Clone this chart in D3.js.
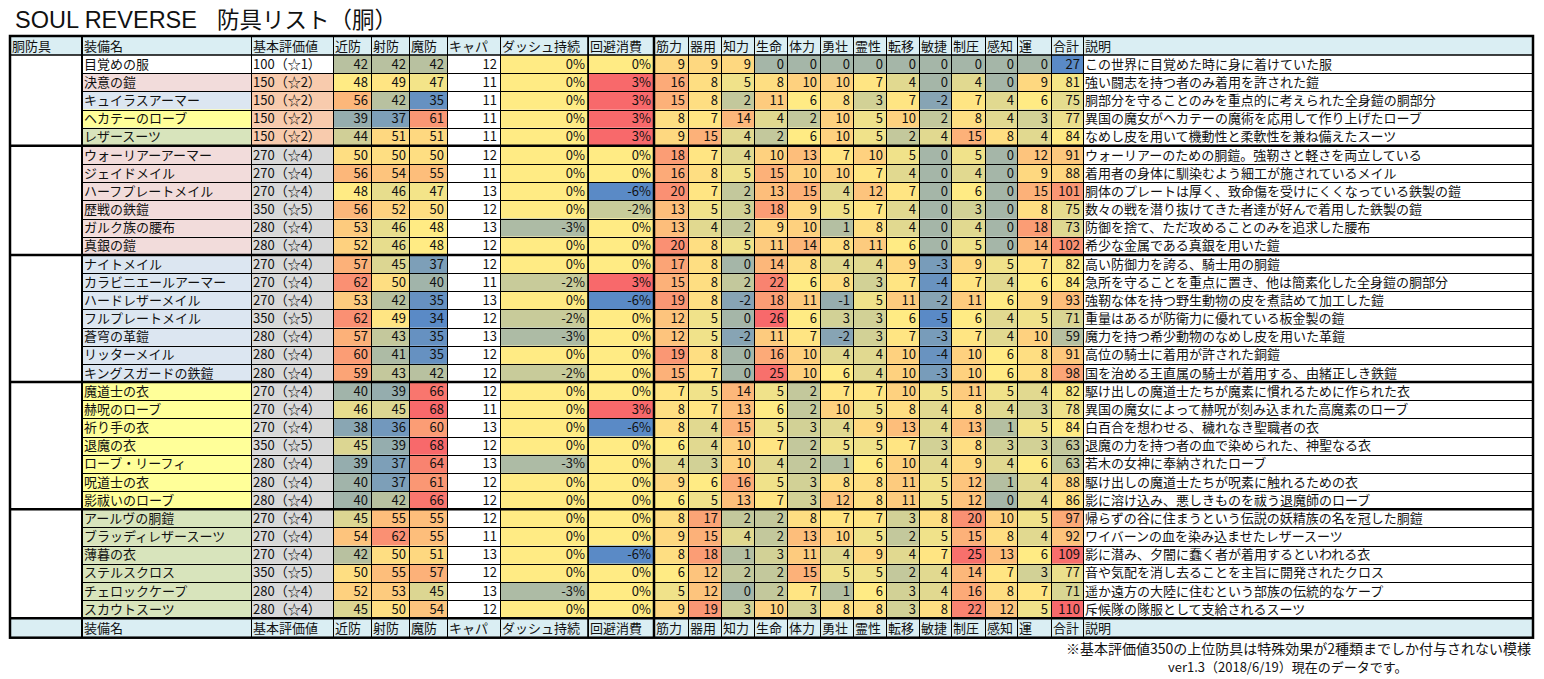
<!DOCTYPE html>
<html>
<head>
<meta charset="utf-8">
<script src="https://cdn.jsdelivr.net/npm/d3@7"></script>
<style>
  body { margin: 0; background: #fff; }
  svg text { font-family: "Noto Sans CJK JP", "Noto Sans", sans-serif; fill: #111; }
</style>
</head>
<body>
<svg id="chart" width="1544" height="679"></svg>
<script>
// ---- data ----
const headers = ["胴防具", "装備名", "基本評価値", "近防", "射防", "魔防", "キャパ", "ダッシュ持続", "回避消費",
  "筋力", "器用", "知力", "生命", "体力", "勇壮", "霊性", "転移", "敏捷", "制圧", "感知", "運", "合計", "説明"];

const names = ["目覚めの服", "決意の鎧", "キュイラスアーマー", "ヘカテーのローブ", "レザースーツ",
  "ウォーリアーアーマー", "ジェイドメイル", "ハーフプレートメイル", "歴戦の鉄鎧", "ガルク族の腰布", "真銀の鎧",
  "ナイトメイル", "カラビニエールアーマー", "ハードレザーメイル", "フルプレートメイル", "蒼穹の革鎧", "リッターメイル", "キングスガードの鉄鎧",
  "魔道士の衣", "赫呪のローブ", "祈り手の衣", "退魔の衣", "ローブ・リーフィ", "呪道士の衣", "影祓いのローブ",
  "アールヴの胴鎧", "ブラッディレザースーツ", "薄暮の衣", "ステルスクロス", "チェロックケープ", "スカウトスーツ"];

// group of rows (merged 胴防具 cells) and name category (row tint)
const group = [0,0,0,0,0, 1,1,1,1,1,1, 2,2,2,2,2,2,2, 3,3,3,3,3,3,3, 4,4,4,4,4,4];
const nameType = [0,1,2,3,4, 1,1,1,1,1,1, 2,2,2,2,2,2,2, 3,3,3,3,3,3,3, 4,4,4,4,4,4];

const baseValue = [100,150,150,150,150, 270,270,270,350,280,280, 270,270,270,350,280,280,280,
  270,270,270,350,280,280,280, 270,270,270,350,280,280];
const stars = [1,2,2,2,2, 4,4,4,5,4,4, 4,4,4,5,4,4,4, 4,4,4,5,4,4,4, 4,4,4,5,4,4];

const melee  = [42,48,56,39,44, 50,56,48,56,53,52, 57,62,53,62,57,60,59, 40,46,38,45,39,40,40, 45,54,42,50,52,45];
const ranged = [42,49,42,37,51, 50,54,46,52,46,46, 45,50,42,49,43,41,43, 39,45,36,39,37,37,42, 55,62,50,55,53,50];
const magic  = [42,47,35,61,51, 50,55,47,50,48,48, 37,40,35,34,35,35,42, 66,68,60,68,64,61,66, 55,55,51,57,45,54];
const capacity = [12,11,11,11,11, 12,11,13,12,13,12, 12,11,13,12,13,12,12, 12,11,13,12,13,12,12, 12,11,13,12,13,12];

const dash  = [0,0,0,0,0, 0,0,0,0,-3,0, 0,-2,0,-2,-3,0,-2, 0,0,0,0,-3,0,0, 0,0,0,0,-3,0];
const dodge = [0,3,3,3,3, 0,0,-6,-2,0,0, 0,3,-6,0,0,0,0, 0,3,-6,0,0,0,0, 0,0,-6,0,0,0];

// 筋力 器用 知力 生命 体力 勇壮 霊性 転移 敏捷 制圧 感知 運
const stats = [
  [9,9,9,0,0,0,0,0,0,0,0,0],
  [16,8,5,8,10,10,7,4,0,4,0,9],
  [15,8,2,11,6,8,3,7,-2,7,4,6],
  [8,7,14,4,2,10,5,10,2,8,4,3],
  [9,15,4,2,6,10,5,2,4,15,8,4],
  [18,7,4,10,13,7,10,5,0,5,0,12],
  [16,8,5,15,10,10,7,4,0,4,0,9],
  [20,7,2,13,15,4,12,7,0,6,0,15],
  [13,5,3,18,9,5,7,4,0,3,0,8],
  [13,4,2,9,10,1,8,4,0,4,0,18],
  [20,8,5,11,14,8,11,6,0,5,0,14],
  [17,8,0,14,8,4,4,9,-3,9,5,7],
  [15,8,2,22,6,8,3,7,-4,7,4,6],
  [19,8,-2,18,11,-1,5,11,-2,11,6,9],
  [12,5,0,26,6,3,3,6,-5,6,4,5],
  [12,5,-2,11,7,-2,3,7,-3,7,4,10],
  [19,8,0,16,10,4,4,10,-4,10,6,8],
  [15,7,0,25,10,6,4,10,-3,10,6,8],
  [7,5,14,5,2,7,7,10,5,11,5,4],
  [8,7,13,6,2,10,5,8,4,8,4,3],
  [8,4,15,5,3,4,9,13,4,13,1,5],
  [6,4,10,7,2,5,5,7,3,8,3,3],
  [4,3,10,4,2,1,6,10,4,9,4,6],
  [9,6,16,5,3,8,8,11,5,12,1,4],
  [6,5,13,7,3,12,8,11,5,12,0,4],
  [8,17,2,2,8,7,7,3,8,20,10,5],
  [9,15,4,2,13,10,5,2,5,15,8,4],
  [8,18,1,3,11,4,9,4,7,25,13,6],
  [6,12,2,2,15,5,5,2,4,14,7,3],
  [5,12,0,2,7,1,6,3,4,16,8,7],
  [9,19,3,10,3,8,8,3,8,22,12,5]
];

const total = [27,81,75,77,84, 91,88,101,75,73,102, 82,84,93,71,59,91,98, 82,78,84,63,63,88,86, 97,92,109,77,71,110];

const desc = [
  "この世界に目覚めた時に身に着けていた服",
  "強い闘志を持つ者のみ着用を許された鎧",
  "胴部分を守ることのみを重点的に考えられた全身鎧の胴部分",
  "異国の魔女がヘカテーの魔術を応用して作り上げたローブ",
  "なめし皮を用いて機動性と柔軟性を兼ね備えたスーツ",
  "ウォーリアーのための胴鎧。強靭さと軽さを両立している",
  "着用者の身体に馴染むよう細工が施されているメイル",
  "胴体のプレートは厚く、致命傷を受けにくくなっている鉄製の鎧",
  "数々の戦を潜り抜けてきた者達が好んで着用した鉄製の鎧",
  "防御を捨て、ただ攻めることのみを追求した腰布",
  "希少な金属である真銀を用いた鎧",
  "高い防御力を誇る、騎士用の胴鎧",
  "急所を守ることを重点に置き、他は簡素化した全身鎧の胴部分",
  "強靭な体を持つ野生動物の皮を煮詰めて加工した鎧",
  "重量はあるが防衛力に優れている板金製の鎧",
  "魔力を持つ希少動物のなめし皮を用いた革鎧",
  "高位の騎士に着用が許された銅鎧",
  "国を治める王直属の騎士が着用する、由緒正しき鉄鎧",
  "駆け出しの魔道士たちが魔素に慣れるために作られた衣",
  "異国の魔女によって赫呪が刻み込まれた高魔素のローブ",
  "白百合を想わせる、穢れなき聖職者の衣",
  "退魔の力を持つ者の血で染められた、神聖なる衣",
  "若木の女神に奉納されたローブ",
  "駆け出しの魔道士たちが呪素に触れるための衣",
  "影に溶け込み、悪しきものを祓う退魔師のローブ",
  "帰らずの谷に住まうという伝説の妖精族の名を冠した胴鎧",
  "ワイバーンの血を染み込ませたレザースーツ",
  "影に潜み、夕闇に蠢く者が着用するといわれる衣",
  "音や気配を消し去ることを主旨に開発されたクロス",
  "遥か遠方の大陸に住むという部族の伝統的なケープ",
  "斥候隊の隊服として支給されるスーツ"
];

const title = ["SOUL REVERSE", "防具リスト（胴）"];
const notes = ["※基本評価値350の上位防具は特殊効果が2種類までしか付与されない模様", "ver1.3（2018/6/19）現在のデータです。"];

// ---- layout ----
const colEdges = [10, 82, 251, 333, 371, 409, 447, 500, 588, 654, 688, 721, 754, 787, 820, 853, 886, 919, 951, 985, 1017, 1051, 1083, 1533];
const headTop = 36, bodyTop = 55, bodyBottom = 618.3, footBottom = 637.7;
const nameColors = ["#ffffff", "#f2dcdb", "#dce6f1", "#ffff99", "#d8e4bc"];
const headFill = "#daeef3";
const fontSize = 13;
const xL = colEdges[0], xR = colEdges[colEdges.length - 1];

const svg = d3.select("#chart");
const nRows = names.length;
const y = d3.scaleBand().domain(d3.range(nRows)).range([bodyTop, bodyBottom]);
const rh = y.bandwidth();

// Excel-like 3 colour scale: min blue, median yellow, max red
function colourScale(vals) {
  const s = vals.slice().sort(d3.ascending);
  return d3.scaleLinear()
    .domain([s[0], d3.quantileSorted(s, 0.5), s[s.length - 1]])
    .range(["#5A8AC6", "#FFEB84", "#F8696B"])
    .interpolate(d3.interpolateRgb);
}
const defScale = colourScale(melee.concat(ranged, magic));
const moveScale = colourScale(dash.concat(dodge));
const statScale = colourScale(stats.flat());
const totalScale = colourScale(total);
const baseFill = v => v <= 100 ? "#ffffff" : v <= 150 ? "#f8cbad" : "#d9d9d9";

// one record per cell
const cells = names.map((n, i) => {
  const row = [];
  row.push({c: 1, t: n, fill: nameColors[nameType[i]], a: "start"});
  row.push({c: 2, t: `${baseValue[i]}（☆${stars[i]}）`, fill: baseFill(baseValue[i]), a: "start"});
  [melee[i], ranged[i], magic[i]].forEach((v, k) => row.push({c: 3 + k, t: v, fill: defScale(v), a: "end"}));
  row.push({c: 6, t: capacity[i], fill: "#ffffff", a: "end"});
  row.push({c: 7, t: dash[i] + "%", fill: moveScale(dash[i]), a: "end"});
  row.push({c: 8, t: dodge[i] + "%", fill: moveScale(dodge[i]), a: "end"});
  stats[i].forEach((v, k) => row.push({c: 9 + k, t: v, fill: statScale(v), a: "end"}));
  row.push({c: 21, t: total[i], fill: totalScale(total[i]), a: "end"});
  row.push({c: 22, t: desc[i], fill: "#ffffff", a: "start"});
  return row.map(d => Object.assign(d, {r: i}));
}).flat();

// title
const tt = svg.append("text").attr("x", 15).attr("y", 28).attr("font-size", 22);
tt.append("tspan").attr("font-family", "'Liberation Sans', Arial, sans-serif").attr("font-size", 23.5).text(title[0]);
tt.append("tspan").attr("x", 217).attr("font-size", 22.5).text(title[1]);

// header + footer rows (footer leaves the first column blank)
[[headTop, bodyTop, true], [bodyBottom, footBottom, false]].forEach(([y0, y1, top]) => {
  const g = svg.append("g");
  g.append("rect").attr("x", xL).attr("y", y0).attr("width", xR - xL).attr("height", y1 - y0).attr("fill", headFill);
  g.selectAll("text").data(headers).join("text")
    .attr("x", (d, i) => colEdges[i] + 2)
    .attr("y", (y0 + y1) / 2 + 5)
    .attr("font-size", fontSize)
    .text((d, i) => (top || i > 0) ? d : "");
});

// cell backgrounds
svg.append("g").selectAll("rect").data(cells).join("rect")
  .attr("x", d => colEdges[d.c])
  .attr("y", d => y(d.r))
  .attr("width", d => colEdges[d.c + 1] - colEdges[d.c])
  .attr("height", rh)
  .attr("fill", d => d.fill);

// cell texts
svg.append("g").selectAll("text").data(cells).join("text")
  .attr("x", d => d.a === "end" ? colEdges[d.c + 1] - 3 : colEdges[d.c] + 2)
  .attr("y", d => y(d.r) + rh / 2 + 4.6)
  .attr("text-anchor", d => d.a)
  .attr("font-size", fontSize)
  .text(d => d.t);

// thin grid
const grid = svg.append("g").attr("stroke", "#000").attr("stroke-width", 1).attr("shape-rendering", "crispEdges");
d3.range(1, nRows).forEach(i => {
  grid.append("line").attr("x1", colEdges[1]).attr("x2", xR)
    .attr("y1", Math.round(y(i)) + 0.5).attr("y2", Math.round(y(i)) + 0.5);
});
colEdges.slice(1, -1).forEach(x => {
  grid.append("line").attr("x1", x).attr("x2", x).attr("y1", headTop).attr("y2", footBottom);
});

// thick borders: group separators, footer, key columns, outline
const thick = svg.append("g").attr("stroke", "#000").attr("fill", "none");
const groupStarts = d3.range(1, nRows).filter(i => group[i] !== group[i - 1]);
groupStarts.map(i => y(i)).concat([bodyBottom]).forEach(yy => {
  thick.append("line").attr("x1", xL).attr("x2", xR).attr("y1", yy).attr("y2", yy).attr("stroke-width", 2.5);
});
thick.append("line").attr("x1", xL).attr("x2", xR).attr("y1", bodyTop).attr("y2", bodyTop).attr("stroke-width", 1.5);
[[1, 2], [8, 1.6], [9, 2.5]].forEach(([c, w]) => {
  thick.append("line").attr("x1", colEdges[c]).attr("x2", colEdges[c])
    .attr("y1", headTop).attr("y2", footBottom).attr("stroke-width", w);
});
thick.append("rect").attr("x", xL).attr("y", headTop)
  .attr("width", xR - xL).attr("height", footBottom - headTop)
  .attr("stroke-width", 2.5);

// notes
svg.append("text").attr("x", 1531).attr("y", 654).attr("text-anchor", "end").attr("font-size", 14).text(notes[0]);
svg.append("text").attr("x", 1168).attr("y", 672).attr("font-size", 13).text(notes[1]);
</script>
</body>
</html>
